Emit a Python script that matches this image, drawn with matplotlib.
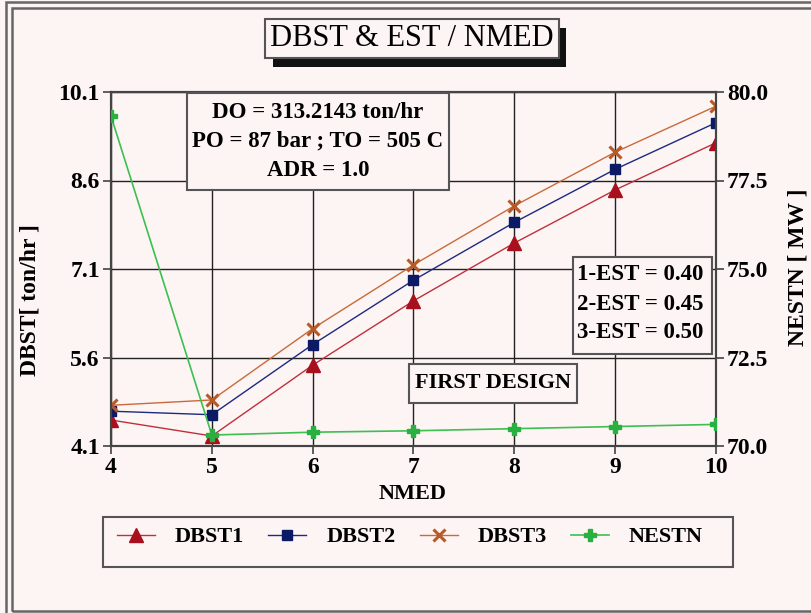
import matplotlib
matplotlib.use("Agg")
import matplotlib.pyplot as plt
from matplotlib.patches import Rectangle

# NMED values and the three DBST series (one per EST) plus NESTN
nmed = [4, 5, 6, 7, 8, 9, 10]
dbst1 = [4.54, 4.27, 5.47, 6.56, 7.54, 8.44, 9.24]
dbst2 = [4.69, 4.63, 5.82, 6.91, 7.89, 8.79, 9.58]
dbst3 = [4.79, 4.88, 6.09, 7.17, 8.17, 9.08, 9.86]
nestn = [79.32, 70.31, 70.39, 70.43, 70.49, 70.55, 70.61]

left_ticks = [4.1, 5.6, 7.1, 8.6, 10.1]
right_ticks = [70.0, 72.5, 75.0, 77.5, 80.0]

BG = "#fdf4f4"
EDGE = "#555555"
W, H = 811, 613

plt.rcParams["font.family"] = ["Liberation Serif", "DejaVu Serif"]
plt.rcParams["font.weight"] = "bold"


def fx(x):
    return x / W


def fy(y):
    return 1 - y / H


def frame(fig, x0, y0, x1, y1, color=EDGE, lw=1.5, fill="none", z=5):
    r = Rectangle((fx(x0), fy(y1)), fx(x1) - fx(x0), fy(y0) - fy(y1),
                  transform=fig.transFigure, facecolor=fill, edgecolor=color,
                  lw=lw, zorder=z)
    fig.add_artist(r)
    return r


fig = plt.figure(figsize=(W / 100, H / 100), dpi=100, facecolor=BG)

# double outer border
frame(fig, 6, 2, 830, 640, color="#666666", lw=1.8)
frame(fig, 12, 8, 830, 611, color="#666666", lw=1.8)

ax = fig.add_axes([fx(111), fy(446), fx(716) - fx(111), fy(92) - fy(446)])
ax.set_facecolor(BG)
ax2 = ax.twinx()

ax.plot(nmed, dbst1, color="#c0303c", lw=1, marker="^", ms=10,
        mfc="#a8101e", mec="#a8101e", label="DBST1", zorder=4)
ax.plot(nmed, dbst2, color="#1c2a80", lw=1, marker="s", ms=7.5,
        mfc="#0c1a66", mec="#0c1a66", label="DBST2", zorder=4)
ax.plot(nmed, dbst3, color="#c86a3a", lw=1, marker="x", ms=9, mew=2.2,
        mec="#b85a28", label="DBST3", zorder=4)
ax2.plot(nmed, nestn, color="#3cc050", lw=1.2, marker="P", ms=8,
         mfc="#28b040", mec="#28b040", label="NESTN", zorder=4)

ax.set_xlim(4, 10)
ax.set_ylim(4.1, 10.1)
ax2.set_ylim(70, 80)
ax.set_xticks(nmed)
ax.set_yticks(left_ticks)
ax.set_yticklabels([f"{v:.1f}" for v in left_ticks])
ax2.set_yticks(right_ticks)
ax2.set_yticklabels([f"{v:.1f}" for v in right_ticks])
ax.grid(True, color="#222222", lw=1)
ax.set_axisbelow(True)

for a in (ax, ax2):
    for s in a.spines.values():
        s.set_color("#444444")
        s.set_linewidth(1.5)
ax.tick_params(axis="both", direction="out", length=6, width=1.2,
               color="#444444", labelsize=17, pad=2)
ax2.tick_params(axis="y", direction="out", length=6, width=1.2,
                color="#444444", labelsize=17, pad=2)

fig.text(fx(413), fy(494), "NMED", ha="center", va="center", fontsize=16)
fig.text(fx(30), fy(300), "DBST[ ton/hr ]", ha="center", va="center",
         rotation=90, fontsize=17)
fig.text(fx(798), fy(267), "NESTN [ MW ]", ha="center", va="center",
         rotation=90, fontsize=17)

# title with drop shadow
frame(fig, 273, 28, 566, 67, color="#111111", lw=0, fill="#111111", z=4)
frame(fig, 265, 19, 559, 58, color=EDGE, lw=1.5, fill=BG, z=5)
fig.text(fx(412), fy(39), "DBST & EST / NMED", ha="center", va="center",
         fontsize=22, weight="normal", zorder=6)

# annotation boxes
frame(fig, 187, 93, 449, 190, fill=BG)
fig.text(fx(318), fy(141), "DO = 313.2143 ton/hr\nPO = 87 bar ; TO = 505 C\nADR = 1.0",
         ha="center", va="center", fontsize=16.5, multialignment="center",
         linespacing=1.5, zorder=6)

frame(fig, 573, 257, 712, 354, fill=BG)
fig.text(fx(577), fy(304), "1-EST = 0.40\n2-EST = 0.45\n3-EST = 0.50",
         ha="left", va="center", fontsize=16.5, linespacing=1.5, zorder=6)

frame(fig, 409, 364, 577, 403, fill=BG)
fig.text(fx(493), fy(383), "FIRST DESIGN", ha="center", va="center",
         fontsize=16, zorder=6)

# legend in its own box
frame(fig, 103, 517, 733, 567, fill=BG)
h1, l1 = ax.get_legend_handles_labels()
h2, l2 = ax2.get_legend_handles_labels()
fig.legend(h1 + h2, l1 + l2, loc="center left",
           bbox_to_anchor=(fx(108), fy(537)), ncol=4, frameon=False,
           fontsize=16, handlelength=1.7, handletextpad=0.9,
           columnspacing=1.1, borderaxespad=0)

fig.savefig("out.png", dpi=100, facecolor=BG)
